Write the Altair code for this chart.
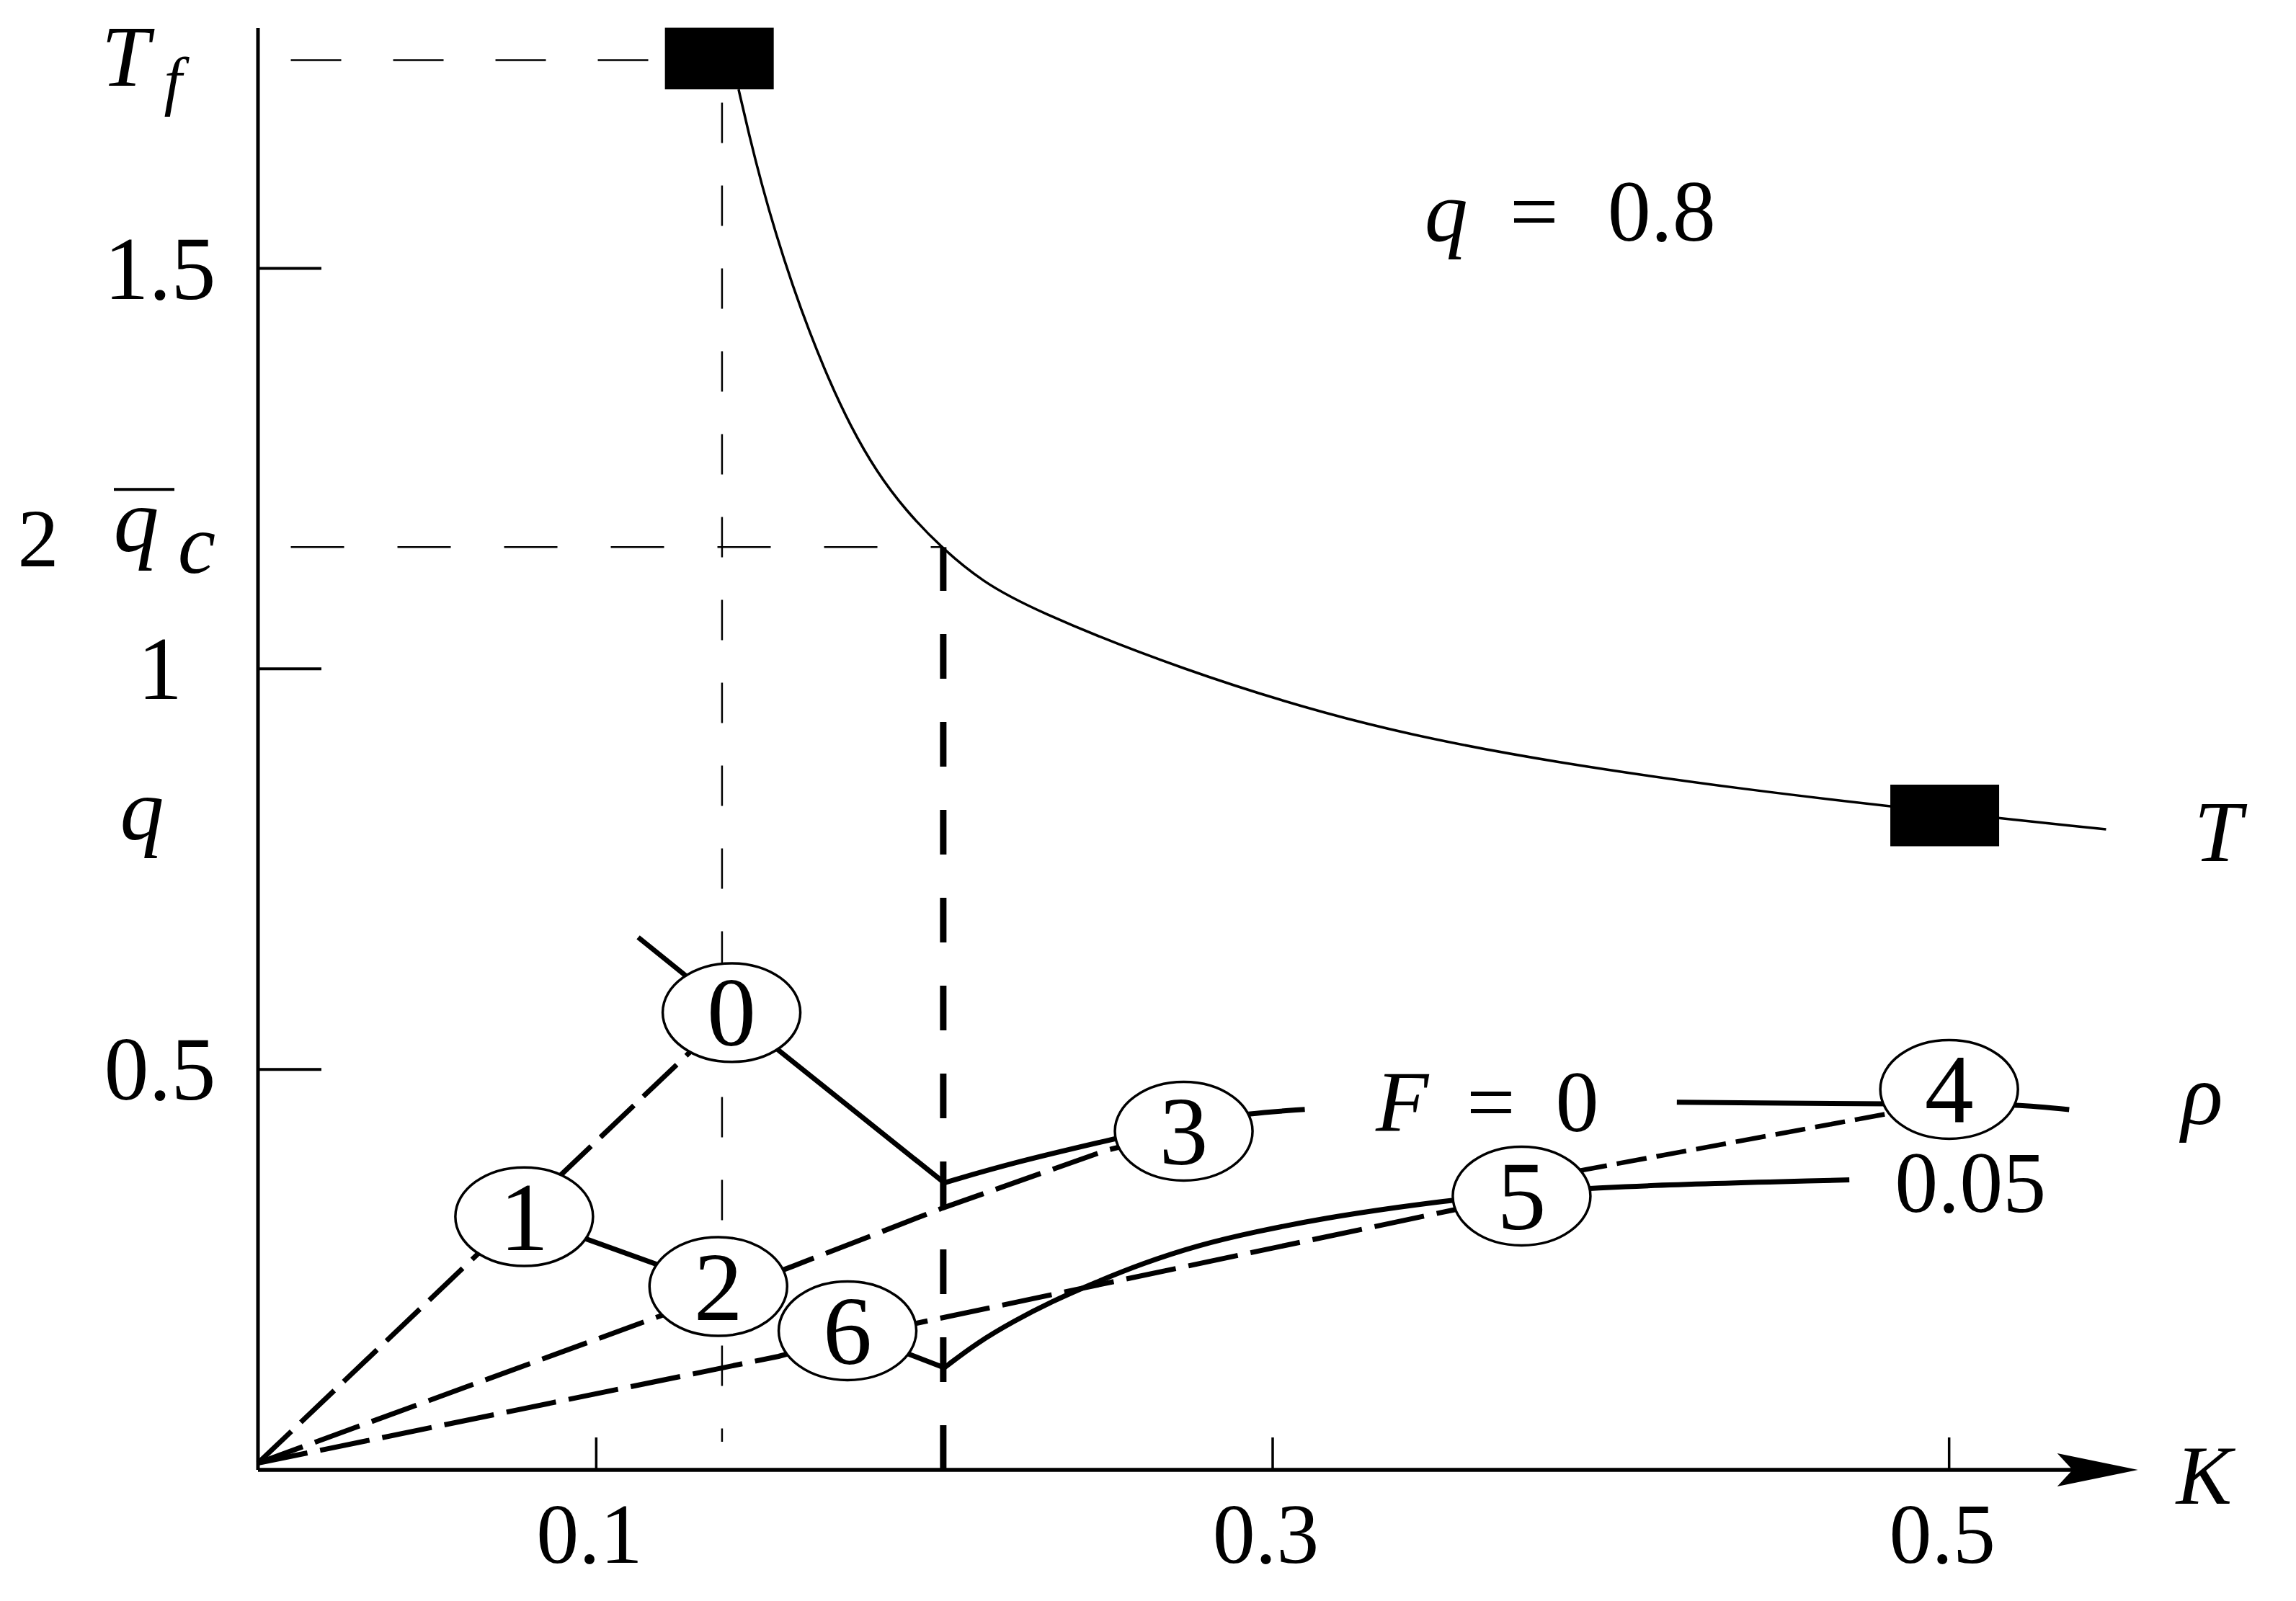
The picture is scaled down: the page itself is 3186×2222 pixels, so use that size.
import altair as alt
import pandas as pd

# ---------------- data (K on x, value on y) ----------------
# T curve (solid thin)
T_K = [0.1421, 0.1453, 0.1488, 0.1531, 0.1581, 0.1630, 0.1687, 0.1751, 0.1829,
       0.1915, 0.2021, 0.2141, 0.2290, 0.2714, 0.3281, 0.3848, 0.4416, 0.4840, 0.5464]
T_V = [1.7234, 1.6648, 1.6067, 1.5431, 1.4781, 1.4210, 1.3617, 1.3035, 1.2459,
       1.1977, 1.1511, 1.1090, 1.0740, 1.0010, 0.9265, 0.8817, 0.8483, 0.8275, 0.7996]

# black rectangles on T curve
SQ_K = [0.1364, 0.4987]
SQ_V = [1.762, 0.817]

# special levels
TF = 1.76      # T_f
QC2 = 1.152    # 2 q_c
QLEV = 0.80    # q
K_TF = 0.1372  # K at T_f
K_C = 0.2026   # K where T = 2 q_c

# circled state labels
C_LAB = ["0", "1", "2", "3", "4", "5", "6"]
C_K = [0.1400, 0.0787, 0.1361, 0.2737, 0.5000, 0.3736, 0.1743]
C_V = [0.5709, 0.3161, 0.2289, 0.4228, 0.4750, 0.3419, 0.1737]

# solid lines
S1_K = [0.1124, 0.1400, 0.2029]; S1_V = [0.6649, 0.5709, 0.3584]
S2_K = [0.0787, 0.1361]; S2_V = [0.3161, 0.2289]
S3_K = [0.1743, 0.2029]; S3_V = [0.1737, 0.1275]
S4_K = [0.2029, 0.2127, 0.2236, 0.2345, 0.2475, 0.2616, 0.2779, 0.2943, 0.3160,
        0.3377, 0.3540, 0.3736, 0.3955, 0.4705]
S4_V = [0.1275, 0.1590, 0.1860, 0.2099, 0.2339, 0.2579, 0.2804, 0.2969, 0.3149,
        0.3284, 0.3374, 0.3450, 0.3537, 0.3620]
S5_K = [0.2029, 0.2236, 0.2508, 0.2738, 0.2934, 0.3095]
S5_V = [0.3584, 0.3839, 0.4109, 0.4333, 0.4454, 0.4500]
S6_K = [0.4195, 0.4823, 0.5000, 0.5195, 0.5355]
S6_V = [0.4589, 0.4570, 0.4565, 0.4552, 0.4497]

# dashed lines
D1_K = [0.0, 0.1400]; D1_V = [0.0085, 0.5709]
D2_K = [0.0, 0.1189, 0.1580, 0.2024, 0.2508, 0.2737]
D2_V = [0.0085, 0.1921, 0.2540, 0.3269, 0.3989, 0.4228]
D3_K = [0.0, 0.1539, 0.1743, 0.1947, 0.3540, 0.3650]
D3_V = [0.0085, 0.1417, 0.1650, 0.1831, 0.3250, 0.3330]
D4_K = [0.3900, 0.4823, 0.4870]
D4_V = [0.3730, 0.4450, 0.4490]

# axis ticks / labels
Y_TICKS = [0.5, 1.0, 1.5]; Y_TICK_LAB = ["0.5", "1", "1.5"]
X_TICKS = [0.1, 0.3, 0.5]; X_TICK_LAB = ["0.1", "0.3", "0.5"]
X_END = 0.5558

# ---------------- layout ----------------
W, H = 2816, 2001
XDOM = [0, 0.6]
YDOM = [0, 1.8]
FONT = "Liberation Serif"

xs = alt.Scale(domain=XDOM, nice=False, zero=False)
ys = alt.Scale(domain=YDOM, nice=False, zero=False)


def X(f="K"):
    return alt.X(f"{f}:Q", scale=xs, axis=None)


def Y(f="v"):
    return alt.Y(f"{f}:Q", scale=ys, axis=None)


def line(ks, vs, width, dash=None, interp="linear"):
    df = pd.DataFrame({"K": ks, "v": vs, "i": list(range(len(ks)))})
    kw = dict(color="black", strokeWidth=width, interpolate=interp, clip=False)
    if dash:
        kw["strokeDash"] = dash
    return alt.Chart(df).mark_line(**kw).encode(x=X(), y=Y(), order="i:Q")


def text_at(ks, vs, labels, size, dy=0, italic=False, align="center"):
    df = pd.DataFrame({"K": ks, "v": vs, "t": labels})
    kw = dict(font=FONT, fontSize=size, align=align, baseline="alphabetic",
              dy=dy, color="black")
    if italic:
        kw["fontStyle"] = "italic"
    return alt.Chart(df).mark_text(**kw).encode(x=X(), y=Y(), text="t:N")


def text_px(xpx, vs, labels, size, dy=0, italic=False):
    df = pd.DataFrame({"v": vs, "t": labels})
    kw = dict(font=FONT, fontSize=size, align="center", baseline="alphabetic",
              dy=dy, color="black")
    if italic:
        kw["fontStyle"] = "italic"
    return alt.Chart(df).mark_text(**kw).encode(x=alt.value(xpx), y=Y(), text="t:N")


layers = []

# thin dashed guide lines
layers.append(line([0.0097, K_TF], [TF, TF], 2.5, [70, 72]))
layers.append(line([0.0097, K_C], [QC2, QC2], 2.5, [74, 74]))
layers.append(line([K_TF, K_TF], [1.707, 0.035], 2.5, [56, 59]))

# thick dashed vertical at K_C (drawn upward from the axis)
layers.append(line([K_C, K_C], [0.0, QC2], 9, [62, 60]))

# T curve
layers.append(line(T_K, T_V, 3.5, interp="basis"))

# dashed lines from origin
layers.append(line(D1_K, D1_V, 7, [64, 18]))
layers.append(line(D2_K, D2_V, 7, [66, 18]))
layers.append(line(D3_K, D3_V, 7, [70, 18]))
layers.append(line(D4_K, D4_V, 6.5, [42, 14]))

# solid lines
layers.append(line(S1_K, S1_V, 7))
layers.append(line(S2_K, S2_V, 7))
layers.append(line(S3_K, S3_V, 7))
layers.append(line(S4_K, S4_V, 7, interp="basis"))
layers.append(line(S5_K, S5_V, 7, interp="basis"))
layers.append(line(S6_K, S6_V, 7, interp="monotone"))

# circles
ELLIPSE = "M-1,0A1,0.717,0,1,0,1,0A1,0.717,0,1,0,-1,0Z"
cdf = pd.DataFrame({"K": C_K, "v": C_V, "t": C_LAB})
layers.append(
    alt.Chart(cdf).mark_point(shape=ELLIPSE, size=191 * 191, filled=True,
                              fill="white", stroke="black", strokeWidth=3.5,
                              opacity=1)
    .encode(x=X(), y=Y())
)
layers.append(text_at(C_K, C_V, C_LAB, 136, dy=46))

# black rectangles
RECT = "M-1,-0.567L1,-0.567L1,0.567L-1,0.567Z"
sqdf = pd.DataFrame({"K": SQ_K, "v": SQ_V})
layers.append(
    alt.Chart(sqdf).mark_point(shape=RECT, size=151 * 151, filled=True,
                               color="black", opacity=1)
    .encode(x=X(), y=Y())
)

# axes
layers.append(
    alt.Chart(pd.DataFrame({"K": [0.0], "v": [0.0], "v2": [YDOM[1]]}))
    .mark_rule(color="black", strokeWidth=5).encode(x=X(), y=Y(), y2="v2:Q")
)
layers.append(
    alt.Chart(pd.DataFrame({"K": [0.0], "K2": [0.540], "v": [0.0]}))
    .mark_rule(color="black", strokeWidth=5.5).encode(x=X(), x2="K2:Q", y=Y())
)
ARROW = "M-1,-0.41L1,0L-1,0.41L-0.62,0Z"
layers.append(
    alt.Chart(pd.DataFrame({"K": [X_END - 0.0119], "v": [0.0]}))
    .mark_point(shape=ARROW, size=112 * 112, filled=True, color="black", opacity=1)
    .encode(x=X(), y=Y())
)

# ticks (inside)
layers.append(
    alt.Chart(pd.DataFrame({"v": Y_TICKS}))
    .mark_rule(color="black", strokeWidth=4)
    .encode(x=alt.value(0), x2=alt.value(88), y=Y())
)
layers.append(
    alt.Chart(pd.DataFrame({"K": X_TICKS}))
    .mark_rule(color="black", strokeWidth=3.5)
    .encode(x=X(), y=alt.value(H), y2=alt.value(H - 45))
)

# tick labels
layers.append(text_px(-136, Y_TICKS, Y_TICK_LAB, 124, dy=42))
layers.append(text_at([k - 0.002 for k in X_TICKS], [0, 0, 0], X_TICK_LAB, 118, dy=129))

# special y labels
layers.append(text_px(-184, [TF], ["T"], 120, dy=36, italic=True))
layers.append(text_px(-118, [TF], ["f"], 90, dy=60, italic=True))
layers.append(text_px(-305, [QC2], ["2"], 114, dy=27))
layers.append(text_px(-169, [QC2], ["q"], 126, dy=6, italic=True))
layers.append(
    alt.Chart(pd.DataFrame({"v": [QC2]}))
    .mark_rule(color="black", strokeWidth=4, yOffset=-80)
    .encode(x=alt.value(-200), x2=alt.value(-116), y=Y())
)
layers.append(text_px(-85, [QC2], ["c"], 118, dy=36, italic=True))
layers.append(text_px(-161, [QLEV], ["q"], 122, dy=14, italic=True))

# curve / axis names
layers.append(text_at([0.5754], [0.0], ["K"], 116, dy=47, italic=True))
layers.append(text_at([0.5795], [0.80], ["T"], 120, dy=44, italic=True))
layers.append(text_at([0.5748], [0.45], ["ρ"], 120, dy=20, italic=True))
layers.append(text_at([0.5063], [0.36], ["0.05"], 120, dy=42))

# F = 0
layers.append(text_at([0.3383], [0.46], ["F"], 120, dy=41, italic=True))
layers.append(text_at([0.3645, 0.3900], [0.46, 0.46], ["=", "0"], 120, dy=41))

# q = 0.8
layers.append(text_at([0.3513], [1.565], ["q"], 120, dy=34, italic=True))
layers.append(text_at([0.3773, 0.4150], [1.565, 1.565], ["=", "0.8"], 120, dy=34))

chart = (
    alt.layer(*layers)
    .properties(
        width=W,
        height=H,
        padding={"left": 350, "top": 31, "right": 4, "bottom": 170},
        autosize=alt.AutoSizeParams(type="none"),
        background="white",
    )
    .configure_view(stroke=None)
)

chart.save("out.html", embed_options={"renderer": "svg", "actions": False})
